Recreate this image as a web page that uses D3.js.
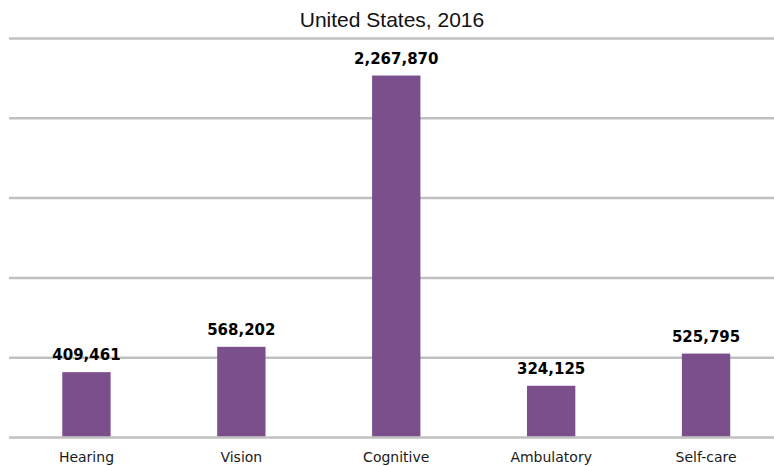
<!DOCTYPE html>
<html>
<head>
<meta charset="utf-8">
<script src="https://cdn.jsdelivr.net/npm/d3@7/dist/d3.min.js"></script>
<style>
  html, body { margin: 0; padding: 0; background: #fff; }
  svg { display: block; }
</style>
</head>
<body>
<svg id="chart" width="774" height="466"></svg>
<script>
// Disability types and counts, United States 2016
const categories = ["Hearing", "Vision", "Cognitive", "Ambulatory", "Self-care"];
const counts = [409461, 568202, 2267870, 324125, 525795];
const gridTicks = [0, 500000, 1000000, 1500000, 2000000, 2500000];
const title = "United States, 2016";

const width = 774, height = 466;
const svg = d3.select("#chart");

const x = d3.scaleBand()
  .domain(categories)
  .range([9, 783.5])
  .paddingInner(0.688)
  .paddingOuter(0.344);

const y = d3.scaleLinear()
  .domain([0, 2500000])
  .range([437.5, 38.5]);

// Title
svg.append("text")
  .attr("x", 392)
  .attr("y", 26.5)
  .attr("text-anchor", "middle")
  .attr("font-family", "'Liberation Sans', Arial, sans-serif")
  .attr("font-size", 21)
  .attr("fill", "#111")
  .text(title);

// Horizontal gridlines
svg.append("g")
  .selectAll("line")
  .data(gridTicks)
  .join("line")
  .attr("x1", 9)
  .attr("x2", width)
  .attr("y1", d => y(d))
  .attr("y2", d => y(d))
  .attr("stroke", "#c0c0c0")
  .attr("stroke-width", 2.5);

// Bars
svg.append("g")
  .selectAll("rect")
  .data(categories)
  .join("rect")
  .attr("x", d => x(d))
  .attr("width", x.bandwidth())
  .attr("y", (d, i) => y(counts[i]))
  .attr("height", (d, i) => y(0) - y(counts[i]) - 1.2)
  .attr("fill", "#7b4f8c");

// Value labels
const fmt = d3.format(",");
svg.append("g")
  .selectAll("text")
  .data(categories)
  .join("text")
  .attr("x", d => x(d) + x.bandwidth() / 2)
  .attr("y", (d, i) => y(counts[i]) - 12)
  .attr("text-anchor", "middle")
  .attr("font-family", "'DejaVu Sans', Verdana, sans-serif")
  .attr("font-weight", "bold")
  .attr("font-size", 15)
  .attr("fill", "#000")
  .text((d, i) => fmt(counts[i]));

// Category axis labels
const xAxis = svg.append("g")
  .attr("transform", `translate(0,${y(0)})`)
  .call(d3.axisBottom(x).tickSize(0).tickPadding(0));
xAxis.select(".domain").remove();
xAxis.selectAll("text")
  .attr("y", 24.5)
  .attr("dy", null)
  .attr("font-family", "'DejaVu Sans', Verdana, sans-serif")
  .attr("font-size", 14)
  .attr("fill", "#1a1a1a");
</script>
</body>
</html>
